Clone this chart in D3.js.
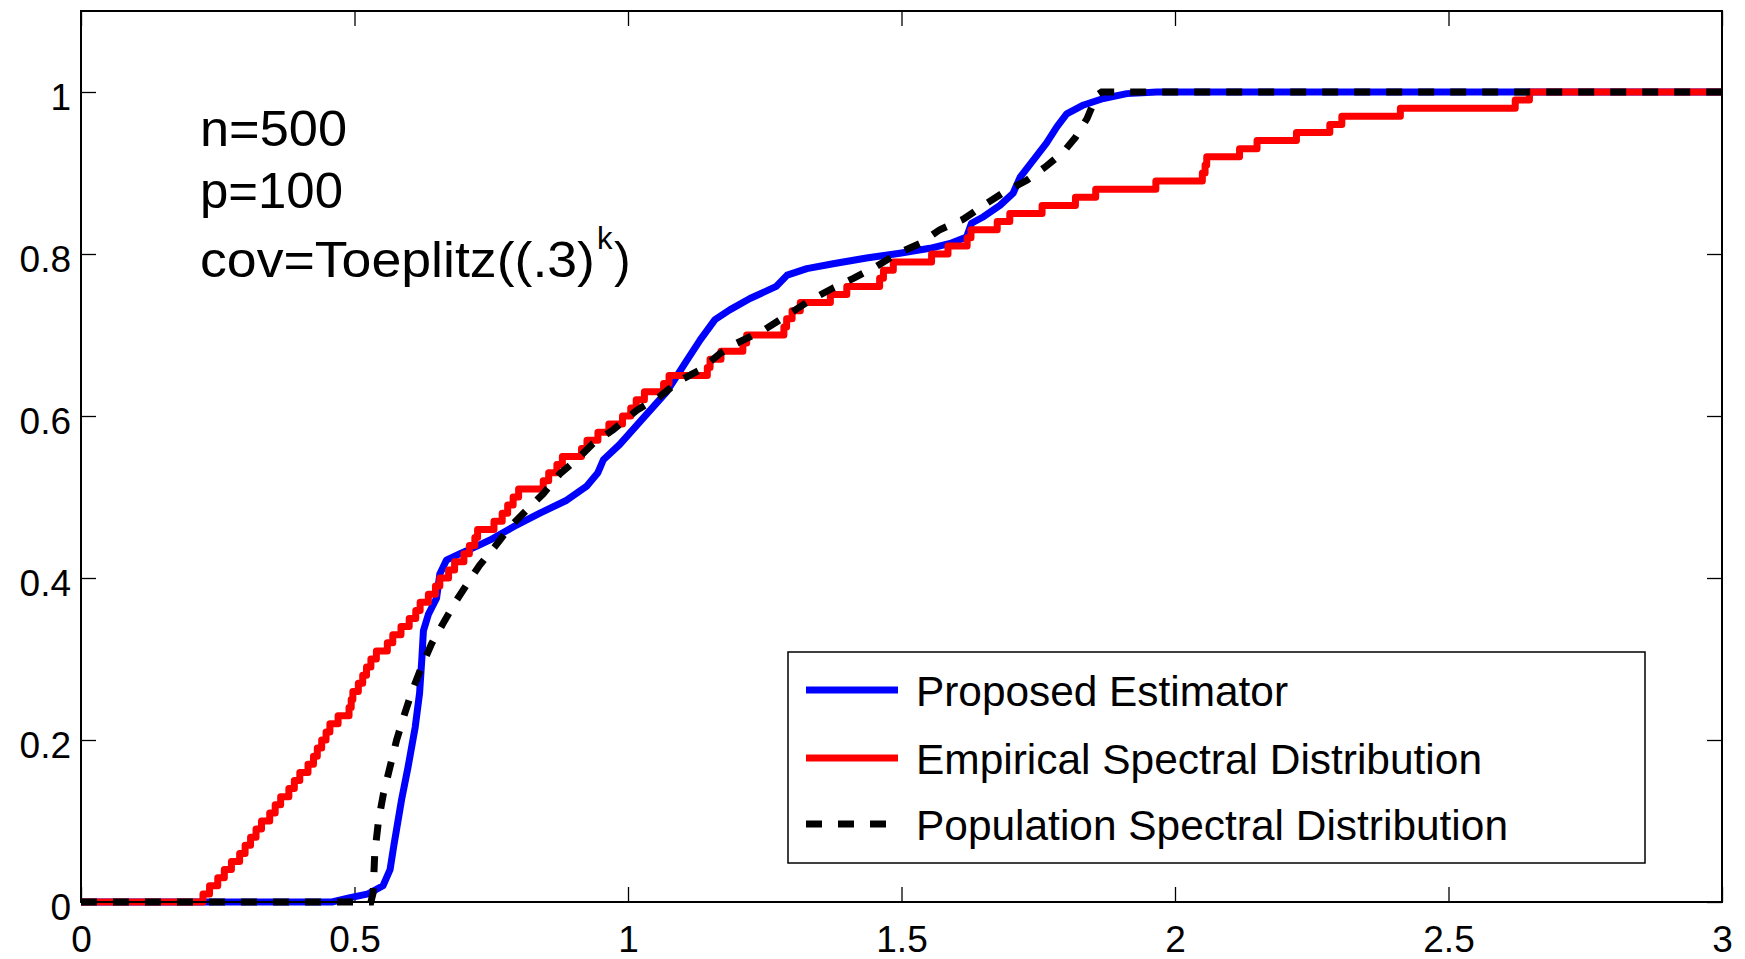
<!DOCTYPE html>
<html>
<head>
<meta charset="utf-8">
<script src="https://cdn.jsdelivr.net/npm/d3@7"></script>
<style>
  html, body { margin: 0; padding: 0; background: #fff; }
  svg { display: block; font-family: "Liberation Sans", Arial, Helvetica, sans-serif; }
</style>
</head>
<body>
<svg id="chart" width="1745" height="959"></svg>
<script>
// ---------- data ----------
const xTicks = [0, 0.5, 1, 1.5, 2, 2.5, 3];
const xTickLabels = ["0", "0.5", "1", "1.5", "2", "2.5", "3"];
const yTicks = [0, 0.2, 0.4, 0.6, 0.8, 1];
const yTickLabels = ["0", "0.2", "0.4", "0.6", "0.8", "1"];

const seriesNames = ["Proposed Estimator", "Empirical Spectral Distribution", "Population Spectral Distribution"];
const annotationLines = ["n=500", "p=100", "cov=Toeplitz((.3)"];
const annotationSup = "k";
const annotationTail = ")";

// Proposed estimator (smooth CDF)  [x, F]
const proposed = [
  [0,0],[0.459,0],[0.49,0.005],[0.525,0.01],[0.552,0.02],[0.565,0.04],[0.572,0.07],[0.577,0.09],
  [0.586,0.126],[0.598,0.167],[0.611,0.216],[0.619,0.258],[0.623,0.299],[0.626,0.335],[0.635,0.355],
  [0.65,0.375],[0.656,0.405],[0.668,0.422],[0.693,0.430],[0.723,0.439],[0.748,0.447],[0.79,0.463],
  [0.839,0.480],[0.888,0.496],[0.924,0.513],[0.945,0.53],[0.955,0.546],[0.985,0.565],[1.022,0.593],
  [1.071,0.630],[1.107,0.668],[1.132,0.694],[1.159,0.719],[1.186,0.731],[1.223,0.745],[1.271,0.760],
  [1.291,0.774],[1.327,0.782],[1.375,0.788],[1.436,0.795],[1.497,0.801],[1.552,0.807],[1.589,0.813],
  [1.619,0.821],[1.628,0.838],[1.650,0.846],[1.680,0.860],[1.704,0.875],[1.717,0.895],[1.741,0.916],
  [1.765,0.937],[1.784,0.957],[1.802,0.973],[1.833,0.984],[1.869,0.992],[1.912,0.998],[1.967,1.0],[3,1]
];

// Empirical spectral distribution: jump points [x, F after jump]
const empirical = [
  [0,0],[0.223,0.01],[0.235,0.02],[0.25,0.03],[0.262,0.04],[0.275,0.05],[0.29,0.06],[0.30,0.07],
  [0.31,0.08],[0.32,0.09],[0.33,0.10],[0.345,0.11],[0.355,0.12],[0.365,0.13],[0.38,0.14],[0.39,0.15],
  [0.40,0.16],[0.415,0.17],[0.425,0.18],[0.432,0.19],[0.44,0.20],[0.448,0.21],[0.455,0.22],[0.47,0.23],
  [0.49,0.24],[0.494,0.25],[0.497,0.26],[0.507,0.27],[0.515,0.28],[0.522,0.29],[0.53,0.30],[0.54,0.31],
  [0.56,0.32],[0.57,0.33],[0.585,0.34],[0.60,0.35],[0.612,0.36],[0.62,0.37],[0.635,0.38],[0.648,0.39],
  [0.656,0.40],[0.672,0.41],[0.683,0.42],[0.70,0.43],[0.71,0.44],[0.72,0.45],[0.725,0.46],[0.755,0.47],
  [0.77,0.48],[0.78,0.49],[0.79,0.50],[0.80,0.51],[0.845,0.52],[0.855,0.53],[0.87,0.54],[0.88,0.55],
  [0.915,0.56],[0.925,0.57],[0.945,0.58],[0.965,0.59],[0.99,0.60],[1.005,0.61],[1.015,0.62],[1.03,0.63],
  [1.065,0.64],[1.075,0.65],[1.145,0.66],[1.15,0.67],[1.17,0.68],[1.21,0.69],[1.217,0.70],[1.285,0.71],
  [1.29,0.72],[1.30,0.73],[1.315,0.74],[1.37,0.75],[1.40,0.76],[1.46,0.77],[1.467,0.78],[1.485,0.79],
  [1.555,0.80],[1.585,0.81],[1.62,0.82],[1.627,0.83],[1.675,0.84],[1.698,0.85],[1.757,0.86],[1.818,0.87],
  [1.855,0.88],[1.965,0.89],[2.05,0.90],[2.055,0.91],[2.058,0.92],[2.118,0.93],[2.15,0.94],[2.222,0.95],
  [2.283,0.96],[2.305,0.97],[2.412,0.98],[2.622,0.99],[2.648,1.0],[3,1.0]
];

// Population spectral distribution [x, F]
const population = [
  [0,0],[0.53,0],[0.534,0.011],[0.537,0.06],[0.544,0.101],[0.553,0.134],[0.565,0.167],[0.577,0.2],
  [0.592,0.233],[0.604,0.258],[0.623,0.291],[0.641,0.319],[0.662,0.344],[0.687,0.373],[0.711,0.398],
  [0.729,0.416],[0.757,0.439],[0.784,0.463],[0.815,0.484],[0.845,0.504],[0.876,0.529],[0.906,0.546],
  [0.936,0.566],[0.973,0.583],[1.016,0.607],[1.058,0.624],[1.095,0.644],[1.132,0.657],[1.168,0.677],
  [1.199,0.690],[1.248,0.706],[1.297,0.727],[1.333,0.743],[1.375,0.758],[1.412,0.770],[1.455,0.785],
  [1.491,0.800],[1.534,0.813],[1.570,0.830],[1.613,0.843],[1.650,0.860],[1.689,0.877],[1.729,0.891],
  [1.762,0.907],[1.796,0.926],[1.818,0.944],[1.839,0.967],[1.857,0.996],[1.866,1.0],[3,1]
];

// ---------- layout ----------
const W = 1745, H = 959;
const margin = { left: 81, right: W - 1722, top: 11, bottom: H - 902 };
const iw = W - margin.left - margin.right;
const ih = H - margin.top - margin.bottom;

const svg = d3.select("#chart");
const g = svg.append("g").attr("transform", `translate(${margin.left},${margin.top})`);

const xScale = d3.scaleLinear().domain([0, 3]).range([0, iw]);
const yScale = d3.scaleLinear().domain([0, 1.1]).range([ih, 0]);

const TICK = 15, FS = 37;

// axes (ticks inward on all four sides)
const axBottom = g.append("g").attr("transform", `translate(0,${ih})`)
  .call(d3.axisBottom(xScale).tickValues(xTicks).tickFormat((d, i) => xTickLabels[i])
        .tickSize(-TICK).tickSizeOuter(0).tickPadding(24));
const axLeft = g.append("g")
  .call(d3.axisLeft(yScale).tickValues(yTicks).tickFormat((d, i) => yTickLabels[i])
        .tickSize(-TICK).tickSizeOuter(0).tickPadding(10));
const axTop = g.append("g")
  .call(d3.axisTop(xScale).tickValues(xTicks).tickFormat("").tickSize(-TICK).tickSizeOuter(0));
const axRight = g.append("g").attr("transform", `translate(${iw},0)`)
  .call(d3.axisRight(yScale).tickValues(yTicks).tickFormat("").tickSize(-TICK).tickSizeOuter(0));

[axBottom, axLeft, axTop, axRight].forEach(a => {
  a.select(".domain").remove();
  a.selectAll(".tick line").attr("stroke", "#000").attr("stroke-width", 1.3);
  a.selectAll(".tick text").attr("fill", "#000").attr("font-size", FS)
    .attr("font-family", "'Liberation Sans', Arial, sans-serif");
});
axLeft.selectAll(".tick text").attr("dy", "0.46em");

// curves
const line = d3.line().x(d => xScale(d[0])).y(d => yScale(d[1]));
const stepLine = d3.line().x(d => xScale(d[0])).y(d => yScale(d[1])).curve(d3.curveStepAfter);

g.append("path").datum(proposed).attr("d", line)
  .attr("fill", "none").attr("stroke", "#0000ff").attr("stroke-width", 7)
  .attr("stroke-linejoin", "round");
g.append("path").datum(empirical).attr("d", stepLine)
  .attr("fill", "none").attr("stroke", "#ff0000").attr("stroke-width", 7)
  .attr("stroke-linejoin", "round");
g.append("path").datum(population).attr("d", line)
  .attr("fill", "none").attr("stroke", "#000").attr("stroke-width", 7)
  .attr("stroke-dasharray", "16,16").attr("stroke-linejoin", "miter");

// box
g.append("rect").attr("x", 0).attr("y", 0).attr("width", iw).attr("height", ih)
  .attr("fill", "none").attr("stroke", "#000").attr("stroke-width", 2);

// annotation
const annoBase = [146, 208, 277];
const annoWidths = [147, 143, 395];
annotationLines.forEach((t, i) => {
  svg.append("text").attr("x", 200).attr("y", annoBase[i])
    .attr("font-size", 50).attr("fill", "#000")
    .attr("textLength", annoWidths[i]).attr("lengthAdjust", "spacingAndGlyphs")
    .text(t);
});
svg.append("text").attr("x", 597).attr("y", 249).attr("font-size", 31).attr("fill", "#000").text(annotationSup);
svg.append("text").attr("x", 614).attr("y", 277).attr("font-size", 50).attr("fill", "#000").text(annotationTail);

// legend
const lg = svg.append("g");
lg.append("rect").attr("x", 788).attr("y", 652).attr("width", 1645 - 788).attr("height", 863 - 652)
  .attr("fill", "#fff").attr("stroke", "#000").attr("stroke-width", 1.5);
const legY = [690, 758, 824];
const legColors = ["#0000ff", "#ff0000", "#000"];
const legDash = [null, null, "16,16"];
const legWidths = [372, 566, 592];
seriesNames.forEach((name, i) => {
  lg.append("line").attr("x1", 806).attr("x2", 898).attr("y1", legY[i]).attr("y2", legY[i])
    .attr("stroke", legColors[i]).attr("stroke-width", 7)
    .attr("stroke-dasharray", legDash[i]);
  lg.append("text").attr("x", 916).attr("y", legY[i] + 16)
    .attr("font-size", 42).attr("fill", "#000")
    .attr("textLength", legWidths[i]).attr("lengthAdjust", "spacingAndGlyphs")
    .text(name);
});
</script>
</body>
</html>
